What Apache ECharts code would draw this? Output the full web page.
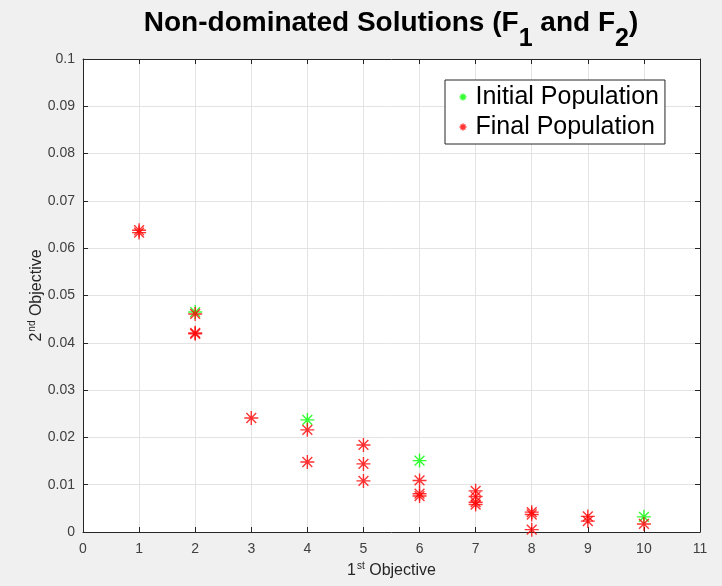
<!DOCTYPE html>
<html>
<head>
<meta charset="utf-8">
<script src="https://cdn.jsdelivr.net/npm/echarts@6/dist/echarts.min.js"></script>
<style>
  html, body { margin: 0; padding: 0; background: #f0f0f0; }
  #chart { width: 722px; height: 586px; }
</style>
</head>
<body>
<div id="chart"></div>
<script>
// Initial population (green)
var initialX = [2, 4, 6, 10];
var initialY = [0.0465, 0.0237, 0.0151, 0.0032];

// Final population (red)
var finalX = [1, 1, 2, 2, 2, 3, 4, 4, 5, 5, 5, 6, 6, 6, 7, 7, 7, 7, 8, 8, 8, 9, 9, 10];
var finalY = [0.0633, 0.0638, 0.0461, 0.0419, 0.0421, 0.0241, 0.0216, 0.0148,
              0.0184, 0.0144, 0.0108, 0.0109, 0.0081, 0.0076,
              0.0087, 0.0075, 0.0063, 0.0058, 0.0042, 0.0037, 0.0005,
              0.0033, 0.0023, 0.0017];

var xTicks = [0, 1, 2, 3, 4, 5, 6, 7, 8, 9, 10, 11];
var yTicks = [0, 0.01, 0.02, 0.03, 0.04, 0.05, 0.06, 0.07, 0.08, 0.09, 0.1];

function pairs(xs, ys) {
  return xs.map(function (x, i) { return [x, ys[i]]; });
}

var asterisk = 'path://M10 0 L10 20 M0 10 L20 10 M3 3 L17 17 M3 17 L17 3';
var FONT = '"Liberation Sans", Arial, Helvetica, sans-serif';

var chart = echarts.init(document.getElementById('chart'));

var axisLineStyle = { color: '#262626', width: 1 };

chart.setOption({
  backgroundColor: '#f0f0f0',
  animation: false,
  title: {
    left: 391,
    textAlign: 'center',
    top: 9,
    padding: 0,
    text: '{b|Non-dominated Solutions (F}{s|1}{b| and F}{s|2}{b|)}',
    textStyle: {
      rich: {
        b: { fontFamily: FONT, fontSize: 28, fontWeight: 'bold', color: '#000', lineHeight: 28 },
        s: { fontFamily: FONT, fontSize: 25, fontWeight: 'bold', color: '#000', lineHeight: 25, padding: [33, 0, 0, 0] }
      }
    }
  },
  legend: {
    orient: 'vertical',
    left: 445,
    top: 80,
    width: 222,
    backgroundColor: '#ffffff',
    borderColor: '#262626',
    borderWidth: 1,
    borderRadius: 0,
    padding: [3, 6, 3, 12],
    itemGap: 2,
    itemWidth: 7,
    itemHeight: 7,
    textStyle: { fontFamily: FONT, fontSize: 25, color: '#000', padding: [0, 0, 0, 4], lineHeight: 28 },
    data: [
      { name: 'Initial Population', icon: asterisk, itemStyle: { color: 'none', borderColor: '#00ff00', borderWidth: 1.5 } },
      { name: 'Final Population', icon: asterisk, itemStyle: { color: 'none', borderColor: '#ff0000', borderWidth: 1.5 } }
    ]
  },
  grid: {
    left: 83, right: 22, top: 59, bottom: 52,
    show: true, backgroundColor: '#ffffff', borderWidth: 0
  },
  xAxis: [{
    type: 'value', min: 0, max: 11, interval: 1,
    name: '{n|1}{p|st}{n| Objective}',
    nameLocation: 'middle', nameGap: 31, nameMoveOverlap: false,
    nameTextStyle: {
      rich: {
        n: { fontFamily: FONT, fontSize: 16, color: '#262626', lineHeight: 16 },
        p: { fontFamily: FONT, fontSize: 10, color: '#262626', lineHeight: 10, padding: [0, 0, 10, 1] }
      }
    },
    axisLine: { show: true, onZero: false, lineStyle: axisLineStyle },
    axisTick: { show: true, inside: true, length: 5, lineStyle: axisLineStyle },
    axisLabel: { fontFamily: FONT, fontSize: 14, color: '#404040', margin: 10,
      formatter: function (v) { return xTicks.indexOf(v) >= 0 ? String(v) : ''; } },
    splitLine: { show: true, lineStyle: { color: '#e3e3e3', width: 1 } }
  }, {
    type: 'value', min: 0, max: 11, interval: 1, position: 'top',
    axisLine: { show: true, onZero: false, lineStyle: axisLineStyle },
    axisTick: { show: true, inside: true, length: 5, lineStyle: axisLineStyle },
    axisLabel: { show: false },
    splitLine: { show: false }
  }],
  yAxis: [{
    type: 'value', min: 0, max: 0.1, interval: 0.01,
    name: '{n|2}{p|nd}{n| Objective}',
    nameLocation: 'middle', nameGap: 38, nameRotate: 90, nameMoveOverlap: false,
    nameTextStyle: {
      rich: {
        n: { fontFamily: FONT, fontSize: 16, color: '#262626', lineHeight: 16 },
        p: { fontFamily: FONT, fontSize: 10, color: '#262626', lineHeight: 10, padding: [0, 0, 10, 1] }
      }
    },
    axisLine: { show: true, onZero: false, lineStyle: axisLineStyle },
    axisTick: { show: true, inside: true, length: 5, lineStyle: axisLineStyle },
    axisLabel: { fontFamily: FONT, fontSize: 14, color: '#404040', margin: 8,
      formatter: function (v) {
        var r = Math.round(v * 100) / 100;
        return r === 0 ? '0' : String(r);
      } },
    splitLine: { show: true, lineStyle: { color: '#e3e3e3', width: 1 } }
  }, {
    type: 'value', min: 0, max: 0.1, interval: 0.01, position: 'right',
    axisLine: { show: true, onZero: false, lineStyle: axisLineStyle },
    axisTick: { show: true, inside: true, length: 5, lineStyle: axisLineStyle },
    axisLabel: { show: false },
    splitLine: { show: false }
  }],
  series: [{
    name: 'Initial Population',
    type: 'scatter',
    symbol: asterisk,
    symbolSize: 14,
    itemStyle: { color: 'none', borderColor: '#00ff00', borderWidth: 1.4 },
    data: pairs(initialX, initialY)
  }, {
    name: 'Final Population',
    type: 'scatter',
    symbol: asterisk,
    symbolSize: 14,
    itemStyle: { color: 'none', borderColor: '#ff0000', borderWidth: 1.4 },
    data: pairs(finalX, finalY)
  }]
});
</script>
</body>
</html>
